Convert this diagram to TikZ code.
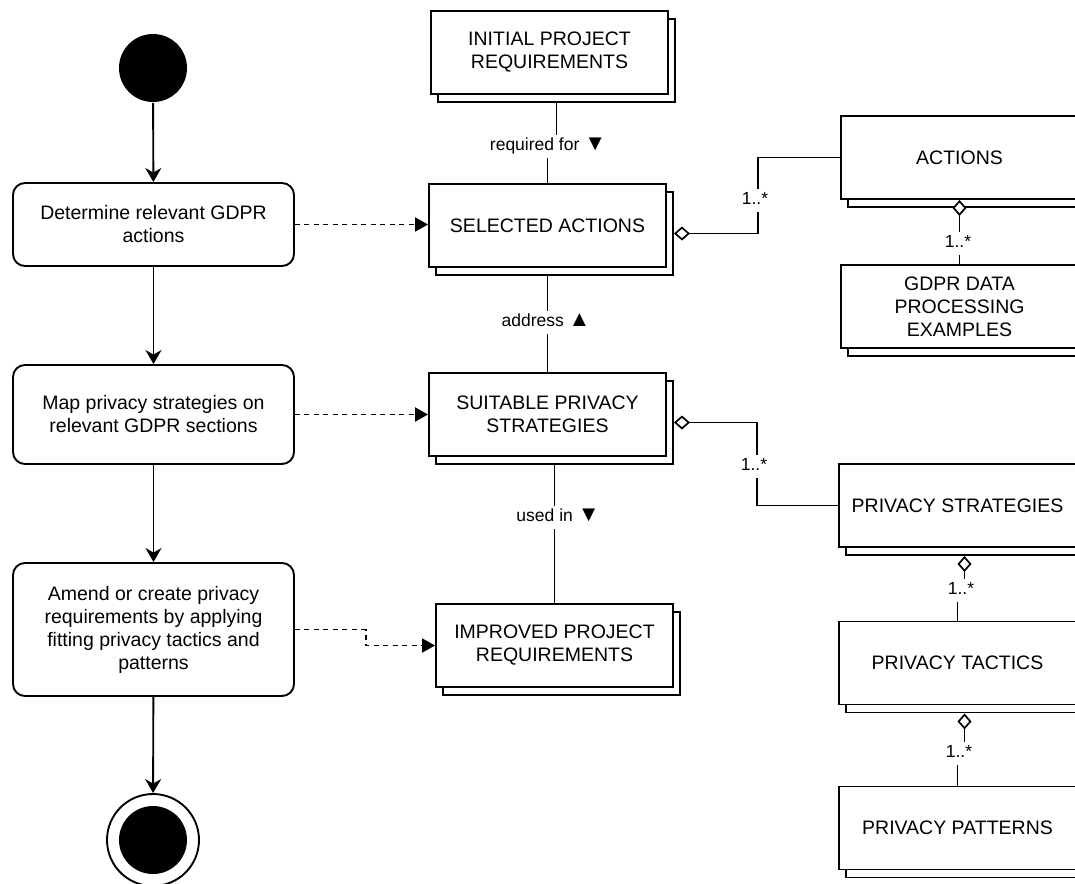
\documentclass[tikz,border=0pt]{standalone}
\usepackage{fontspec}
\setmainfont{Liberation Sans}
\usetikzlibrary{arrows.meta,shadows}
\newcommand{\dirmark}[1]{{\fontsize{22}{21}\selectfont #1}}
\begin{document}
\begin{tikzpicture}[x=1pt,y=-1pt,
  line width=1.9pt,
  every node/.style={font=\fontsize{19.5}{23}\selectfont},
  activity/.style={draw, rounded corners=12pt, fill=white, minimum width=281pt,
    align=center, inner sep=0pt},
  objbox/.style={draw, fill=white, minimum width=237pt, minimum height=83pt,
    align=center, inner sep=0pt,
    copy shadow={shadow xshift=7pt, shadow yshift=-8pt, draw=black, fill=white, line width=1.9pt}},
  flow/.style={-{Stealth[length=14pt,width=16pt,inset=4.5pt]}},
  dep/.style={dash pattern=on 5pt off 4.5pt, -{Triangle[length=13pt,width=14pt]}},
  agg/.style={{Diamond[fill=white,length=16pt,width=14pt,line width=1.7pt]}-},
  lbl/.style={fill=white, font=\fontsize{17.5}{21}\selectfont, inner xsep=2pt,
    inner ysep=3pt, text height=13pt, text depth=4pt},
]
\useasboundingbox (0,0) rectangle (1075,883);
\clip (0,0) rectangle (1075,883);

% activity flow
\node[circle, fill=black, minimum size=68pt, inner sep=0pt] (start) at (153,68) {};
\node[activity, minimum height=83pt] (a1) at (153.5,224.5) {Determine relevant GDPR\\actions};
\node[activity, minimum height=99pt] (a2) at (153.5,414.5) {Map privacy strategies on\\relevant GDPR sections};
\node[activity, minimum height=133pt] (a3) at (153.5,629.5) {Amend or create privacy\\requirements by applying\\fitting privacy tactics and\\patterns};
\node[circle, draw, fill=white, minimum size=92pt, inner sep=0pt] (end) at (153,840) {};
\node[circle, fill=black, minimum size=68pt, inner sep=0pt] (endin) at (end.center) {};

\draw[flow] (start) -- (a1);
\draw[flow] (a1) -- (a2);
\draw[flow] (a2) -- (a3);
\draw[flow] (a3) -- (end);

% artefacts
\node[objbox] (ini)  at (549.5,52.5)  {INITIAL PROJECT\\REQUIREMENTS};
\node[objbox] (sel)  at (547.5,225.5) {SELECTED ACTIONS};
\node[objbox] (suit) at (547.5,414.5) {SUITABLE PRIVACY\\STRATEGIES};
\node[objbox] (imp)  at (554.5,645.5) {IMPROVED PROJECT\\REQUIREMENTS};

\node[objbox] (act)  at (959.5,157.5) {ACTIONS};
\node[objbox] (gdpr) at (959.5,306.5) {GDPR DATA\\PROCESSING\\EXAMPLES};
\node[objbox] (pstr) at (957.5,505.5) {PRIVACY STRATEGIES};
\node[objbox] (ptac) at (957.5,663)   {PRIVACY TACTICS};
\node[objbox] (ppat) at (957.5,828)   {PRIVACY PATTERNS};

% activity outputs
\draw[dep] (a1.east) -- (a1.east -| sel.west);
\draw[dep] (a2.east) -- (a2.east -| suit.west);
\draw[dep] (a3.east) -- ++(71,0) |- (imp.west);

% associations between artefacts
\draw ([xshift=7pt,yshift=-8pt]ini.south) -- ++(0,44) -| (sel.north);
\node[lbl] (l1) at (548,146) {required for \dirmark{▼}};
\draw ([yshift=-8pt]sel.south) -- (suit.north);
\node[lbl] (l2) at (546,322) {address \dirmark{▲}};
\draw ([xshift=7pt,yshift=-8pt]suit.south) -- (imp.north);
\node[lbl] (l3) at (558,517) {used in \dirmark{▼}};

% aggregations
\draw[agg] ([xshift=7pt,yshift=-8pt]sel.east) -- ++(84,0) |- (act.west);
\node[lbl] (m1) at (755,200) {1..*};
\draw[agg] (act.south) -- (gdpr.north);
\node[lbl] (m2) at (958,243) {1..*};
\draw[agg] ([xshift=7pt,yshift=-8pt]suit.east) -- ++(83,0) |- (pstr.west);
\node[lbl] (m3) at (754,466) {1..*};
\draw[agg] ([xshift=7pt,yshift=-8pt]pstr.south) -- ++(0,35) -| (ptac.north);
\node[lbl] (m4) at (961,590) {1..*};
\draw[agg] ([xshift=7pt,yshift=-8pt]ptac.south) -- ++(0,40) -| (ppat.north);
\node[lbl] (m5) at (959,753) {1..*};
\end{tikzpicture}
\end{document}
